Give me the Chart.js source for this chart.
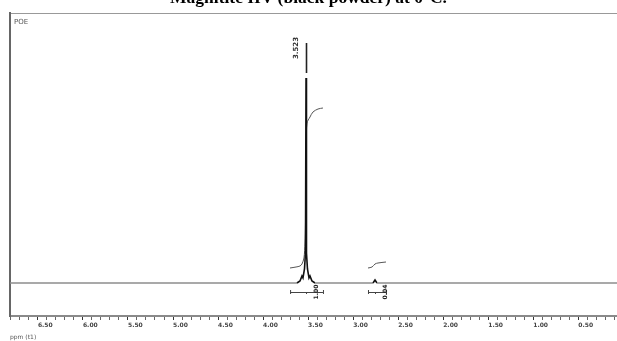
<!DOCTYPE html>
<html><head><meta charset="utf-8">
<script src="https://cdn.jsdelivr.net/npm/chart.js@4"></script>
<style>
html,body{margin:0;padding:0;background:#fff;}
#wrap{position:relative;width:617px;height:341px;overflow:hidden;background:#fff;}
#title{position:absolute;left:0;width:617px;top:-13px;text-align:center;font:bold 17.5px "Liberation Serif","Times New Roman",serif;color:#000;white-space:nowrap;line-height:20px;}
canvas{position:absolute;left:0;top:0;}
</style></head>
<body><div id="wrap"><canvas id="c" width="617" height="341"></canvas><div id="title">Magnitite IIV (black powder) at 0°C.</div></div>
<script>
// ---- data (ppm axis is reversed, as in NMR) ----
const tickLabels = ['6.50','6.00','5.50','5.00','4.50','4.00','3.50','3.00','2.50','2.00','1.50','1.00','0.50'];
const spectrumPpm = [6.81, 4.50, 3.623, 3.590, 3.568, 3.557, 3.540, 3.529, 3.523, 3.518, 3.507, 3.490, 3.479, 3.457, 3.423, 3.00, 2.779, 2.757, 2.735, 2.00, 0.07];
const spectrumInt = [0, 0, 0, 2, 7, 5, 14, 30, 205, 30, 14, 5, 7, 2, 0, 0, 0, 3, 0, 0, 0];
const integral1Ppm = [3.701, 3.634, 3.590, 3.568, 3.546, 3.534, 3.529, 3.520, 3.512, 3.479, 3.446, 3.390, 3.335];
const integral1Val = [15, 16, 17, 19, 25, 40, 60, 140, 160, 166, 171, 174, 175];
const integral2Ppm = [2.835, 2.790, 2.757, 2.724, 2.635];
const integral2Val = [15, 16, 19, 20, 21];
const peakPpm = [3.523];
const peakText = ['3.523'];
const integralRanges = [[3.70, 3.335], [2.835, 2.635]];
const integralCenters = [3.523, 2.757];
const integralText = ['1.00', '0.04'];

const minorTicks = [];
for (let i = 1; i <= 68; i++) minorTicks.push(Math.round(i) / 10);
const labelVals = tickLabels.map(parseFloat);
function isMajor(v){ return labelVals.some(l => Math.abs(l - v) < 1e-6); }

const toXY = (xs, ys) => xs.map((x, i) => ({x: x, y: ys[i]}));

const annot = {
  id: 'annot',
  afterDatasetsDraw(chart) {
    const ctx = chart.ctx, xs = chart.scales.x, ys = chart.scales.y;
    ctx.save();
    // peak labels + leader
    peakPpm.forEach((p, i) => {
      const px = Math.round(xs.getPixelForValue(p)) + 0.5;
      ctx.strokeStyle = '#222'; ctx.lineWidth = 1.6;
      ctx.beginPath(); ctx.moveTo(px, ys.getPixelForValue(210)); ctx.lineTo(px, ys.getPixelForValue(240)); ctx.stroke();
      ctx.save();
      ctx.translate(px - 10, ys.getPixelForValue(235));
      ctx.rotate(-Math.PI / 2);
      ctx.fillStyle = '#333'; ctx.font = 'bold 7px "DejaVu Sans"'; ctx.textAlign = 'center'; ctx.textBaseline = 'middle';
      ctx.fillText(peakText[i], 0, 0);
      ctx.restore();
    });
    // integral brackets
    const by = ys.getPixelForValue(-9);
    integralRanges.forEach((r, i) => {
      const x1 = xs.getPixelForValue(r[0]), x2 = xs.getPixelForValue(r[1]), xc = xs.getPixelForValue(integralCenters[i]);
      ctx.strokeStyle = '#444'; ctx.lineWidth = 1;
      ctx.beginPath();
      ctx.moveTo(x1, by + 0.5); ctx.lineTo(x2, by + 0.5);
      ctx.moveTo(x1 + 0.5, by - 2); ctx.lineTo(x1 + 0.5, by + 2);
      ctx.moveTo(x2 + 0.5, by - 2); ctx.lineTo(x2 + 0.5, by + 2);
      ctx.moveTo(xc + 0.5, by); ctx.lineTo(xc + 0.5, by + 2);
      ctx.stroke();
      ctx.save();
      ctx.translate(xc + 10, by);
      ctx.rotate(-Math.PI / 2);
      ctx.fillStyle = '#222'; ctx.font = 'bold 6px "DejaVu Sans"'; ctx.textAlign = 'center'; ctx.textBaseline = 'middle';
      ctx.fillText(integralText[i], 0, 0);
      ctx.restore();
    });
    // corner texts
    ctx.fillStyle = '#555'; ctx.font = '7px "DejaVu Sans"'; ctx.textAlign = 'left'; ctx.textBaseline = 'alphabetic';
    ctx.fillText('POE', chart.chartArea.left + 4, chart.chartArea.top + 11);
    ctx.font = '6px "DejaVu Sans"';
    ctx.fillText('ppm (t1)', 10, 339);
    ctx.restore();
  }
};

new Chart(document.getElementById('c'), {
  type: 'line',
  data: {
    datasets: [
      { data: toXY(spectrumPpm, spectrumInt), borderWidth: 1.6, pointRadius: 0, tension: 0,
        borderColor: '#8c8c8c',
        segment: { borderColor: c => (c.p0.parsed.y > 0.5 || c.p1.parsed.y > 0.5) ? '#111' : '#8c8c8c' } },
      { data: toXY(integral1Ppm, integral1Val), borderWidth: 1, borderColor: '#555', pointRadius: 0, tension: 0.3 },
      { data: toXY(integral2Ppm, integral2Val), borderWidth: 1, borderColor: '#555', pointRadius: 0, tension: 0.3 }
    ]
  },
  options: {
    responsive: false, animation: false, events: [],
    layout: { padding: { left: 10, right: 0, top: 13, bottom: 0 } },
    plugins: { legend: { display: false }, tooltip: { enabled: false }, title: { display: false } },
    scales: {
      x: {
        type: 'linear', position: 'bottom', reverse: true, min: 0.07, max: 6.81,
        afterFit: s => { s.height = 25; },
        afterBuildTicks: s => { s.ticks = minorTicks.map(v => ({ value: v })); },
        ticks: { autoSkip: false, maxRotation: 0, minRotation: 0, padding: 2, align: 'start',
          font: { size: 6, weight: 'bold', family: 'DejaVu Sans' }, color: '#444',
          callback: v => { const k = labelVals.findIndex(l => Math.abs(l - v) < 1e-6); return k >= 0 ? tickLabels[k] : ''; } },
        grid: { display: true, drawOnChartArea: false, drawTicks: true, tickLength: 4,
          color: c => (c.tick && isMajor(c.tick.value)) ? '#333' : '#666', lineWidth: 1 },
        border: { display: true, color: '#8a8a8a', width: 2 }
      },
      xTop: {
        type: 'linear', axis: 'x', position: 'top', reverse: true, min: 0.07, max: 6.81,
        afterFit: s => { s.height = 0; },
        ticks: { display: false }, grid: { display: false },
        border: { display: true, color: '#999', width: 1 }
      },
      y: {
        type: 'linear', min: -33, max: 270,
        afterFit: s => { s.width = 0; },
        ticks: { display: false }, grid: { display: false },
        border: { display: true, color: '#666', width: 2 }
      }
    }
  },
  plugins: [annot]
});
</script>
</body></html>
